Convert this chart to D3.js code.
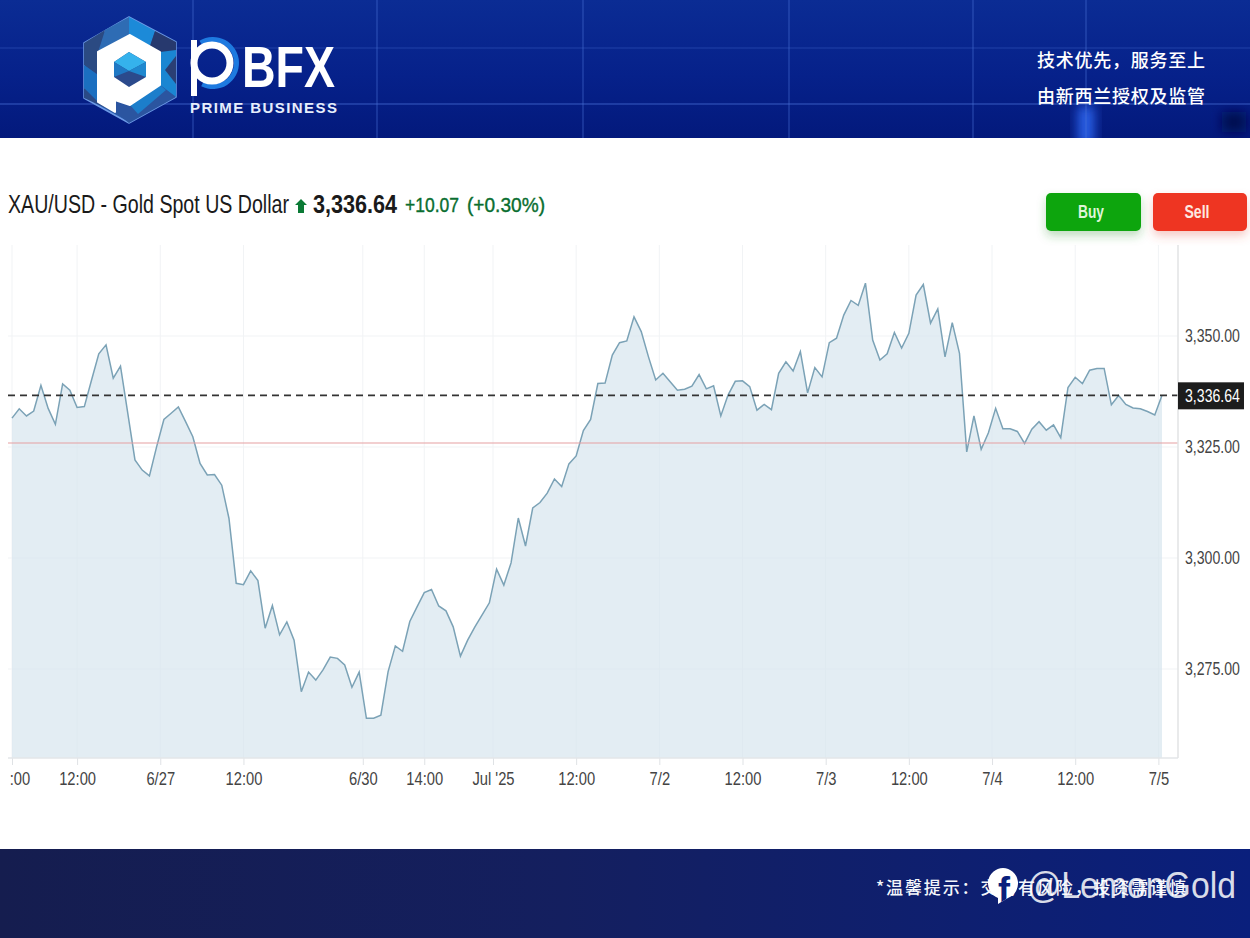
<!DOCTYPE html>
<html>
<head>
<meta charset="utf-8">
<script src="https://cdn.jsdelivr.net/npm/d3@7"></script>
<style>
  html, body { margin: 0; padding: 0; background: #fff; }
  svg { display: block; }
  text { font-family: "Liberation Sans", Arial, sans-serif; }
  .cjk { font-family: "Noto Sans CJK SC", sans-serif; }
</style>
</head>
<body>
<svg id="chart" width="1250" height="938"></svg>
<script>
// 每根K線的收盤價
const prices = [
  3331.5, 3333.6, 3332.0, 3333.1, 3338.9, 3333.7, 3330.1, 3339.2, 3337.8, 3333.9,
  3334.1, 3340.1, 3346.0, 3348.0, 3340.5, 3343.2, 3332.7, 3322.1, 3319.8, 3318.5,
  3325.1, 3331.2, 3332.6, 3334.0, 3330.7, 3327.3, 3321.3, 3318.7, 3318.8, 3316.4,
  3308.9, 3294.3, 3294.0, 3297.1, 3294.9, 3284.2, 3289.3, 3282.7, 3285.6, 3281.5,
  3269.9, 3274.3, 3272.5, 3274.8, 3277.7, 3277.4, 3275.9, 3270.9, 3274.3, 3263.9,
  3263.9, 3264.6, 3274.4, 3280.2, 3279.0, 3285.7, 3289.0, 3292.2, 3292.9, 3289.2,
  3288.1, 3284.5, 3277.9, 3281.5, 3284.5, 3287.2, 3289.9, 3297.5, 3293.9, 3298.9,
  3309.0, 3302.7, 3311.3, 3312.5, 3314.6, 3317.8, 3316.1, 3321.2, 3323.0, 3328.7,
  3331.2, 3339.3, 3339.4, 3345.7, 3348.5, 3348.9, 3354.3, 3351.0, 3345.3, 3340.1,
  3341.6, 3339.7, 3337.8, 3338.0, 3338.7, 3341.3, 3338.1, 3338.8, 3332.0, 3336.7,
  3339.8, 3339.9, 3338.6, 3333.3, 3334.6, 3333.4, 3341.6, 3344.2, 3342.1, 3346.5,
  3337.2, 3342.9, 3340.8, 3348.5, 3349.5, 3354.7, 3358.0, 3356.9, 3361.9, 3349.1,
  3344.6, 3346.0, 3350.8, 3347.3, 3350.6, 3359.2, 3361.6, 3352.9, 3356.1, 3345.3,
  3353.0, 3346.1, 3323.9, 3332.0, 3324.5, 3328.2, 3333.7, 3329.1, 3329.1, 3328.5,
  3325.8, 3329.0, 3330.7, 3328.8, 3330.0, 3327.1, 3338.4, 3340.7, 3339.3, 3342.3,
  3342.7, 3342.7, 3334.5, 3336.6, 3334.6, 3333.8, 3333.6, 3333.0, 3332.2, 3336.64
];
const lastPrice = 3336.64;
const prevClose = 3325.9;

// X軸標籤及其所在K線序號
const xTickBars = [0, 9, 20.5, 32, 48.5, 57, 66.5, 78, 89.5, 101, 112.5, 124, 135.5, 147, 158.5];
const xTickLabels = [":00", "12:00", "6/27", "12:00", "6/30", "14:00", "Jul '25", "12:00", "7/2", "12:00", "7/3", "12:00", "7/4", "12:00", "7/5"];
const yTicks = [3275, 3300, 3325, 3350];

const svg = d3.select("#chart");
const defs = svg.append("defs");

// 比例尺：3350 在 y=336，每25點 111px
const xScale = d3.scaleLinear().domain([0, prices.length - 1]).range([12, 1162]);
const yScale = d3.scaleLinear().domain([3350, 3275]).range([336, 669]);
const plotTop = 245, plotBottom = 758, plotRight = 1178;
const fmt = d3.format(",.2f");
const hexLine = d3.line();

// 原圖文字被橫向壓窄，以 x 為軸心做水平縮放
function squeeze(selection, x, ratio) {
    return selection.attr("transform", `translate(${x},0) scale(${ratio},1) translate(${-x},0)`);
}

function fitText(g, x, y, str, width, size, attrs = {}) {
    const t = g.append("text")
        .attr("x", x).attr("y", y)
        .attr("font-size", size)
        .attr("textLength", width)
        .attr("lengthAdjust", "spacingAndGlyphs")
        .text(str);
    Object.entries(attrs).forEach(([k, v]) => t.attr(k, v));
    return t;
}

// 頁眉背景
const headGrad = defs.append("linearGradient").attr("id", "headGrad").attr("x1", 0).attr("x2", 0).attr("y1", 0).attr("y2", 1);
headGrad.append("stop").attr("offset", 0).attr("stop-color", "#0b2c94");
headGrad.append("stop").attr("offset", 0.55).attr("stop-color", "#06218a");
headGrad.append("stop").attr("offset", 1).attr("stop-color", "#03197c");
svg.append("rect").attr("width", 1250).attr("height", 138).attr("fill", "url(#headGrad)");

const blur = defs.append("filter").attr("id", "soft").attr("x", "-50%").attr("y", "-50%").attr("width", "200%").attr("height", "200%");
blur.append("feGaussianBlur").attr("stdDeviation", 6);
defs.append("clipPath").attr("id", "headClip").append("rect").attr("width", 1250).attr("height", 138);
const headerFx = svg.append("g").attr("clip-path", "url(#headClip)");
headerFx.append("rect").attr("x", 1078).attr("y", 106).attr("width", 16).attr("height", 40).attr("fill", "#2a62ea").attr("filter", "url(#soft)");
headerFx.append("rect").attr("x", 1222).attr("y", 112).attr("width", 24).attr("height", 20).attr("fill", "#031050").attr("filter", "url(#soft)");

const headerLines = svg.append("g").attr("stroke", "#4a72d8").attr("stroke-opacity", 0.4);
[193, 377, 583, 789, 973, 1086].forEach(x => {
    headerLines.append("line").attr("x1", x).attr("x2", x).attr("y1", 0).attr("y2", 138).attr("stroke-width", 1.5);
});
[48, 104].forEach((y, i) => {
    headerLines.append("line").attr("x1", 0).attr("x2", 1250).attr("y1", y).attr("y2", y)
        .attr("stroke-opacity", i ? 0.5 : 0.25).attr("stroke-width", 1.5);
});

// 標誌
const logo = svg.append("g");
const hex = [[129, 17], [176, 42], [176, 97], [129, 123], [84, 98], [84, 43]];
const logoFacets = [
    { pts: [[129, 17], [105, 30], [98, 52], [129, 35]], fill: "#2e6cb4" },
    { pts: [[129, 17], [155, 31], [150, 46], [129, 35]], fill: "#1c8ad8" },
    { pts: [[155, 31], [176, 42], [176, 55], [160, 52], [150, 46]], fill: "#27396e" },
    { pts: [[176, 50], [176, 97], [160, 85], [160, 52]], fill: "#1a86d2" },
    { pts: [[176, 56], [176, 84], [165, 70]], fill: "#2b3f74" },
    { pts: [[105, 30], [84, 43], [84, 65], [98, 75], [98, 52]], fill: "#2b4a82" },
    { pts: [[84, 65], [98, 75], [98, 102], [84, 88]], fill: "#1b6fc0" },
    { pts: [[84, 88], [98, 102], [115, 112], [84, 98]], fill: "#2a4a86" },
    { pts: [[115, 100], [130, 105], [160, 85], [176, 97], [129, 123], [115, 112]], fill: "#2b55a0" },
    { pts: [[130, 105], [160, 85], [166, 90], [138, 114]], fill: "#1c7ecb" }
];
logo.append("path").attr("d", hexLine(hex) + "Z").attr("fill", "#2a5aa8")
    .attr("stroke", "#6d9ae6").attr("stroke-width", 1.5).attr("stroke-linejoin", "round");
logo.selectAll(".facet").data(logoFacets).enter().append("path").attr("class", "facet")
    .attr("d", d => hexLine(d.pts) + "Z").attr("fill", d => d.fill);
logo.append("path").attr("d", hexLine([[130, 35], [160, 52], [160, 85], [130, 105], [115, 100], [115, 112], [98, 102], [98, 52]]) + "Z")
    .attr("fill", "#fff").attr("stroke", "#fff").attr("stroke-width", 2).attr("stroke-linejoin", "round");
logo.append("path").attr("d", hexLine([[129, 52], [146, 62], [146, 77], [129, 87], [114, 77], [114, 62]]) + "Z").attr("fill", "#2b4a8c");
logo.append("path").attr("d", hexLine([[129, 52], [146, 62], [129, 71], [114, 62]]) + "Z").attr("fill", "#35b2ec");
logo.append("path").attr("d", hexLine([[146, 62], [146, 77], [129, 71]]) + "Z").attr("fill", "#1f88cf");
logo.append("path").attr("d", hexLine([[114, 62], [114, 77], [129, 71]]) + "Z").attr("fill", "#1f78c4");

// 文字標誌
const wordArc = d3.arc().innerRadius(21).outerRadius(26).startAngle(-0.35 * Math.PI / 2).endAngle(1.15 * Math.PI);
logo.append("path").attr("transform", "translate(213,63)").attr("d", wordArc()).attr("fill", "#1e7ae0");
logo.append("circle").attr("cx", 212).attr("cy", 63).attr("r", 18).attr("fill", "none").attr("stroke", "#fff").attr("stroke-width", 7);
logo.append("rect").attr("x", 191).attr("y", 40).attr("width", 6).attr("height", 56).attr("fill", "#fff");
logo.append("text").attr("x", 242).attr("y", 87).attr("fill", "#fff")
    .attr("font-size", 58).attr("font-weight", 700)
    .attr("textLength", 93).attr("lengthAdjust", "spacingAndGlyphs").text("BFX");
logo.append("text").attr("x", 190).attr("y", 113).attr("fill", "#e6eefc")
    .attr("font-size", 15).attr("font-weight", 700)
    .attr("textLength", 147).text("PRIME BUSINESS");

const slogan = svg.append("g").attr("fill", "#fff").attr("font-size", 18).attr("font-weight", 500);
slogan.append("text").attr("class", "cjk").attr("x", 1037).attr("y", 67).attr("textLength", 168).text("技术优先，服务至上");
slogan.append("text").attr("class", "cjk").attr("x", 1037).attr("y", 103).attr("textLength", 168).text("由新西兰授权及监管");

// 圖表網格
const grid = svg.append("g").attr("stroke", "#f1f3f5");
xTickBars.forEach(d => {
    grid.append("line").attr("x1", xScale(d)).attr("x2", xScale(d)).attr("y1", plotTop).attr("y2", plotBottom);
});
yTicks.forEach(d => {
    grid.append("line").attr("x1", 8).attr("x2", plotRight).attr("y1", yScale(d)).attr("y2", yScale(d));
});

// 面積與折線
const area = d3.area().x((d, i) => xScale(i)).y0(plotBottom).y1(d => yScale(d));
const line = d3.line().x((d, i) => xScale(i)).y(d => yScale(d));
svg.append("path").datum(prices).attr("d", area).attr("fill", "#d6e4ee").attr("fill-opacity", 0.68);
svg.append("path").datum(prices).attr("d", line).attr("fill", "none").attr("stroke", "#7ba2b6").attr("stroke-width", 1.5);

// 前收盤線與現價線
svg.append("line").attr("x1", 8).attr("x2", plotRight).attr("y1", yScale(prevClose)).attr("y2", yScale(prevClose))
    .attr("stroke", "#e6a0a2").attr("stroke-width", 1.2);
svg.append("line").attr("x1", 8).attr("x2", plotRight).attr("y1", yScale(lastPrice)).attr("y2", yScale(lastPrice))
    .attr("stroke", "#333").attr("stroke-width", 1.8).attr("stroke-dasharray", "7,5");

// 座標軸
const xAxis = d3.axisBottom(xScale).tickValues(xTickBars).tickSize(7).tickPadding(7)
    .tickFormat((d, i) => xTickLabels[i]);
const xAxisG = svg.append("g").attr("transform", `translate(0,${plotBottom})`).call(xAxis);
xAxisG.select(".domain").remove();
xAxisG.selectAll("line").attr("stroke", "#dfe2e5");
xAxisG.selectAll("text").attr("font-size", 18).attr("fill", "#444").style("font-family", "'Liberation Sans', sans-serif");
squeeze(xAxisG.selectAll("text"), 0, 0.82);
// 最左邊的標籤在原圖被裁切，只剩 ":00"
xAxisG.selectAll("text").filter((d, i) => i === 0).attr("dx", 9);
svg.append("line").attr("x1", 8).attr("x2", plotRight).attr("y1", plotBottom).attr("y2", plotBottom).attr("stroke", "#e3e6e9").attr("stroke-width", 1.5);

const yAxis = d3.axisRight(yScale).tickValues(yTicks).tickSize(0).tickPadding(7).tickFormat(fmt);
const yAxisG = svg.append("g").attr("transform", `translate(${plotRight},-0.7)`).call(yAxis);
yAxisG.select(".domain").remove();
yAxisG.selectAll("text").attr("font-size", 18).attr("fill", "#444").style("font-family", "'Liberation Sans', sans-serif");
squeeze(yAxisG.selectAll("text"), 7, 0.785);
svg.append("line").attr("x1", plotRight).attr("x2", plotRight).attr("y1", plotTop).attr("y2", plotBottom).attr("stroke", "#e2e3e5").attr("stroke-width", 1.5);

// 現價標籤
svg.append("rect").attr("x", 1178).attr("y", yScale(lastPrice) - 13).attr("width", 66).attr("height", 27).attr("fill", "#1d1d1d");
squeeze(svg.append("text").attr("x", 1185).attr("y", yScale(lastPrice) + 6.5).attr("font-size", 18).attr("fill", "#fff").text(fmt(lastPrice)), 1185, 0.785);

// 標題列
const title = svg.append("g");
fitText(title, 8, 213, "XAU/USD - Gold Spot US Dollar", 281, 25, { fill: "#1a1a1a" });
title.append("path").attr("d", hexLine([[301, 199], [307, 205], [304, 205], [304, 213], [298, 213], [298, 205], [295, 205]]) + "Z").attr("fill", "#0a7a35");
fitText(title, 313, 213, fmt(lastPrice), 84, 25, { fill: "#1a1a1a", "font-weight": 700 });
fitText(title, 405, 212, "+10.07", 54, 21, { fill: "#0a6e30", stroke: "#0a6e30", "stroke-width": 0.4 });
fitText(title, 467, 212, "(+0.30%)", 78, 21, { fill: "#0a6e30", stroke: "#0a6e30", "stroke-width": 0.4 });

// 買賣按鈕
const addShadow = (id, color) => {
    defs.append("filter").attr("id", id).attr("x", "-20%").attr("y", "-30%").attr("width", "140%").attr("height", "180%")
        .append("feDropShadow").attr("dx", 0).attr("dy", 5).attr("stdDeviation", 5).attr("flood-color", color).attr("flood-opacity", 0.3);
};
addShadow("buyShadow", "#2e8b2e");
addShadow("sellShadow", "#e0503c");
svg.append("rect").attr("x", 1046).attr("y", 193).attr("width", 95).attr("height", 38).attr("rx", 5).attr("fill", "#0fa50f").attr("filter", "url(#buyShadow)");
svg.append("rect").attr("x", 1153).attr("y", 193).attr("width", 94).attr("height", 38).attr("rx", 5).attr("fill", "#ee3524").attr("filter", "url(#sellShadow)");
const btnText = svg.append("g").attr("font-size", 18).attr("font-weight", 700).attr("text-anchor", "middle");
btnText.append("text").attr("x", 1091).attr("y", 218).attr("fill", "#dff5d8").attr("textLength", 26).attr("lengthAdjust", "spacingAndGlyphs").text("Buy");
btnText.append("text").attr("x", 1197).attr("y", 218).attr("fill", "#fde8e0").attr("textLength", 25).attr("lengthAdjust", "spacingAndGlyphs").text("Sell");

// 頁腳
const footGrad = defs.append("linearGradient").attr("id", "footGrad").attr("x1", 0).attr("x2", 1).attr("y1", 0).attr("y2", 0);
footGrad.append("stop").attr("offset", 0).attr("stop-color", "#151d4f");
footGrad.append("stop").attr("offset", 0.45).attr("stop-color", "#141f5f");
footGrad.append("stop").attr("offset", 1).attr("stop-color", "#0a1f7c");
svg.append("rect").attr("y", 849).attr("width", 1250).attr("height", 89).attr("fill", "url(#footGrad)");
svg.append("text").attr("class", "cjk").attr("x", 876).attr("y", 894).attr("font-size", 17).attr("font-weight", 500).attr("fill", "#f4f6fb").attr("textLength", 310).text("*温馨提示：交易有风险，投资需谨慎");

// 水印
defs.append("clipPath").attr("id", "bubbleClip").append("path")
    .attr("d", "M1003 868 A15.5 15.5 0 0 1 1008 898 L998 904 L998 898 A15.5 15.5 0 0 1 1003 868 Z");
const fbIcon = svg.append("g").attr("clip-path", "url(#bubbleClip)");
fbIcon.append("rect").attr("x", 985).attr("y", 865).attr("width", 35).attr("height", 42).attr("fill", "#fff");
fbIcon.append("text").attr("x", 998).attr("y", 903).attr("font-size", 36).attr("font-weight", 700).attr("fill", "#0a1f7c").text("f");
svg.append("text").attr("x", 1027).attr("y", 898).attr("font-size", 37).attr("fill", "#fff").attr("fill-opacity", 0.85)
    .attr("textLength", 209).attr("lengthAdjust", "spacingAndGlyphs").text("@LemonGold");
</script>
</body>
</html>
